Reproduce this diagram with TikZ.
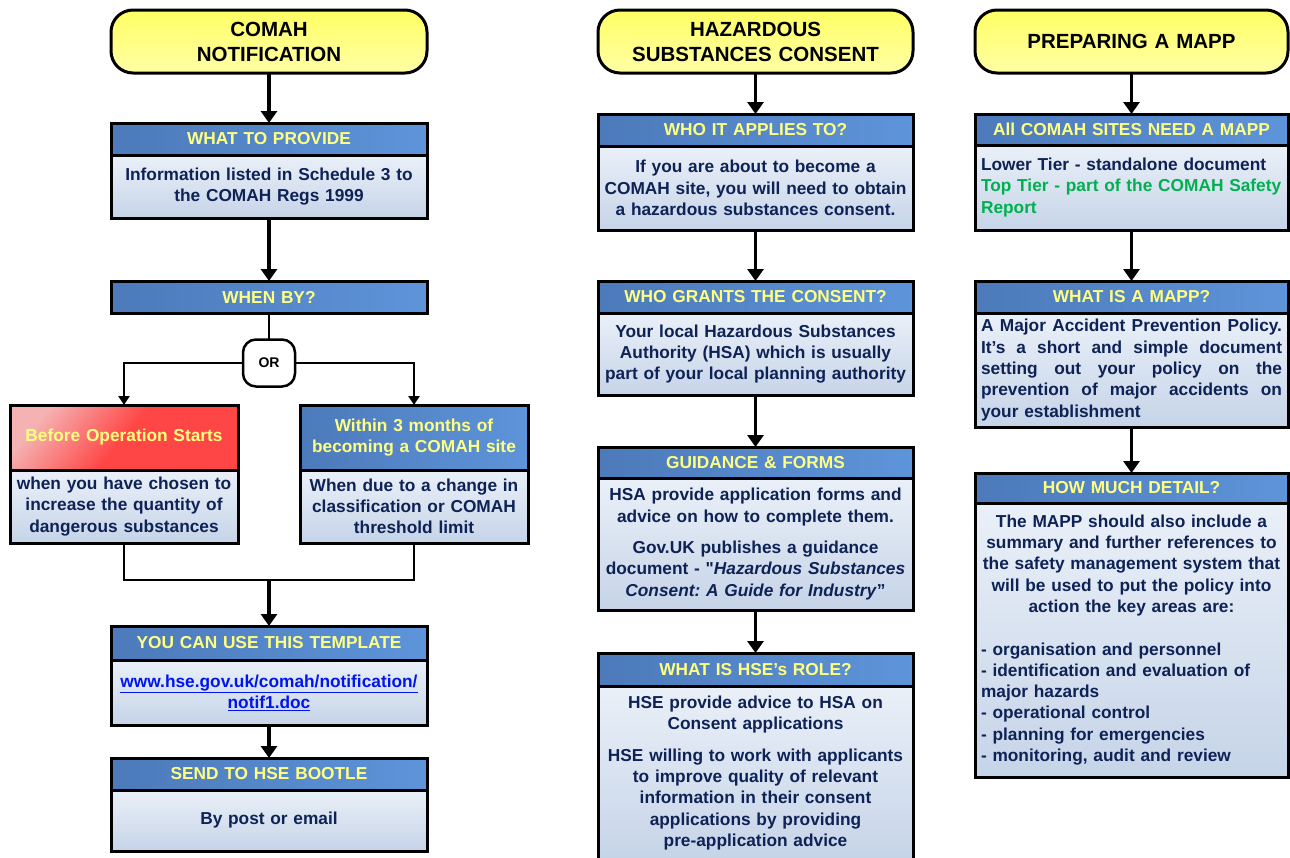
\documentclass[tikz,border=0pt]{standalone}
\usepackage{fontspec}
\setmainfont{Liberation Sans}
\newfontfamily\qfont{Liberation Sans}[Ligatures=TeXOff]
\usetikzlibrary{arrows.meta}
\definecolor{hbA}{RGB}{76,122,186}
\definecolor{hbB}{RGB}{94,148,218}
\definecolor{hy}{RGB}{255,255,128}
\definecolor{bA}{RGB}{234,240,248}
\definecolor{bB}{RGB}{198,212,232}
\definecolor{navy}{RGB}{14,34,86}
\definecolor{tyA}{RGB}{255,255,100}
\definecolor{tyB}{RGB}{255,255,165}
\definecolor{grn}{RGB}{0,176,80}
\definecolor{lnk}{RGB}{0,20,240}
\definecolor{rdA}{RGB}{245,178,178}
\definecolor{rdB}{RGB}{255,70,70}
\newcommand{\bodyfnt}{\fontsize{17.3}{21.3}\selectfont\bfseries\frenchspacing}
\newcommand{\ttlfnt}{\fontsize{20.5}{25}\selectfont\bfseries}
\newcommand{\jline}[1]{\leavevmode\hbox to 301pt{\spaceskip=.278em plus 1fil\relax #1}}
\tikzset{
  box/.style={draw=black, line width=3pt, anchor=north west, inner ysep=0pt, inner xsep=6pt, outer sep=0pt},
  hdr/.style={box, left color=hbA, right color=hbB, text=hy, font=\bodyfnt, align=center},
  redhdr/.style={box, top color=rdA, bottom color=rdB, middle color=rdB, shading angle=50, text=hy, font=\bodyfnt, align=center},
  bdy/.style={box, top color=bA, bottom color=bB, text=navy, font=\bodyfnt, align=center},
  ttl/.style={box, rounded corners=22pt, top color=tyA, bottom color=tyB, text=black, font=\ttlfnt, align=center, minimum height=63pt},
  wA/.style={minimum width=316pt, text width=304pt},
  wB/.style={minimum width=315pt, text width=303pt},
  wC/.style={minimum width=313pt, text width=301pt},
  wS/.style={minimum width=228pt, text width=216pt},
  arr/.style={line width=3.5pt, -{Triangle[width=16pt,length=12pt]}},
  thinline/.style={line width=2.5pt},
  tarr/.style={thinline, -{Triangle[width=11pt,length=9pt]}},
  ornode/.style={draw, line width=2.5pt, rounded corners=13pt, fill=white, font=\fontsize{14}{16}\selectfont\bfseries, minimum width=52pt, minimum height=47pt, inner sep=0pt, outer sep=0pt}
}
\begin{document}
\begin{tikzpicture}[x=1pt,y=-1pt]
\fill[white] (0,0) rectangle (1290,857);
\useasboundingbox (0,0) rectangle (1290,857);

% ---------- Column 1 ----------
\node[ttl, wA] (t1) at (111,10) {COMAH\\NOTIFICATION};
\node[hdr, wA, minimum height=32pt] (h1) at (111,123) {WHAT TO PROVIDE};
\node[bdy, wA, minimum height=63pt] (b1) at (111,155) {Information listed in Schedule 3 to\\the COMAH Regs 1999};
\node[hdr, wA, minimum height=32pt] (h2) at (111,281) {WHEN BY?};
\node[ornode] (orn) at (269,363) {OR};
\node[redhdr, wS, minimum height=65pt] (rh) at (10,405) {Before Operation Starts};
\node[bdy, wS, minimum height=73pt] (rb) at (10,470) {when you have chosen to\\increase the quantity of\\dangerous substances};
\node[hdr, wS, minimum height=65pt] (wh) at (300,405) {Within 3 months of\\becoming a COMAH site};
\node[bdy, wS, minimum height=73pt] (wb) at (300,470) {When due to a change in\\classification or COMAH\\threshold limit};
\coordinate (mrg) at (269,580);
\node[hdr, wA, minimum height=34pt] (h3) at (111,626) {YOU CAN USE THIS TEMPLATE};
\node[bdy, wA, minimum height=65pt, inner xsep=1pt, text width=314pt, text=lnk] (b3) at (111,660) {\underline{www.hse.gov.uk/comah/notification/}\\\underline{notif1.doc}};
\node[hdr, wA, minimum height=32pt] (h4) at (111,758) {SEND TO HSE BOOTLE};
\node[bdy, wA, minimum height=61pt] (b4) at (111,790) {By post or email};

\draw[arr] (t1.south) -- (h1.north);
\draw[arr] (b1.south) -- (h2.north);
\draw[thinline] (h2.south) -- (orn.north);
\draw[tarr] (orn.west) -| (rh.north);
\draw[tarr] (orn.east) -| (wh.north);
\draw[thinline] (rb.south) |- (mrg) -| (wb.south);
\draw[arr] (mrg) -- (h3.north);
\draw[arr] (b3.south) -- (h4.north);

% ---------- Column 2 ----------
\node[ttl, wB] (t2) at (598,10) {HAZARDOUS\\SUBSTANCES CONSENT};
\node[hdr, wB, minimum height=32pt] (h5) at (598,114) {WHO IT APPLIES TO?};
\node[bdy, wB, minimum height=84pt] (b5) at (598,146) {If you are about to become a\\COMAH site, you will need to obtain\\a hazardous substances consent.};
\node[hdr, wB, minimum height=32pt] (h6) at (598,281) {WHO GRANTS THE CONSENT?};
\node[bdy, wB, minimum height=82pt] (b6) at (598,313) {Your local Hazardous Substances\\Authority (HSA) which is usually\\part of your local planning authority};
\node[hdr, wB, minimum height=31pt] (h7) at (598,447) {GUIDANCE \& FORMS};
\node[bdy, wB, minimum height=132pt] (b7) at (598,478) {HSA provide application forms and\\advice on how to complete them.\\[10pt]Gov.UK publishes a guidance\\document - {\qfont\bfseries"}\textit{Hazardous Substances}\\\textit{Consent: A Guide for Industry}”};
\node[hdr, wB, minimum height=33pt] (h8) at (598,653) {WHAT IS HSE’s ROLE?};
\node[bdy, wB, minimum height=174pt] (b8) at (598,686) {HSE provide advice to HSA on\\Consent applications\\[10pt]HSE willing to work with applicants\\to improve quality of relevant\\information in their consent\\applications by providing\\pre-application advice};

\draw[arr] (t2.south) -- (h5.north);
\draw[arr] (b5.south) -- (h6.north);
\draw[arr] (b6.south) -- (h7.north);
\draw[arr] (b7.south) -- (h8.north);

% ---------- Column 3 ----------
\node[ttl, wC] (t3) at (975,10) {PREPARING A MAPP};
\node[hdr, wC, minimum height=31pt] (h9) at (975,114) {All COMAH SITES NEED A MAPP};
\node[bdy, wC, minimum height=85pt, align=left] (b9) at (975,145) {Lower Tier - standalone document\\\textcolor{grn}{Top Tier - part of the COMAH Safety}\\\textcolor{grn}{Report}};
\node[hdr, wC, minimum height=32pt] (h10) at (975,281) {WHAT IS A MAPP?};
\node[bdy, wC, minimum height=114pt, align=left] (b10) at (975,313) {\jline{A Major Accident Prevention Policy.}\\\jline{It’s a short and simple document}\\\jline{setting out your policy on the}\\\jline{prevention of major accidents on}\\your establishment};
\node[hdr, wC, minimum height=30pt] (h11) at (975,473) {HOW MUCH DETAIL?};
\node[bdy, wC, minimum height=274pt, align=left] (b11) at (975,503) {\makebox[301pt]{The MAPP should also include a}\\\makebox[301pt]{summary and further references to}\\\makebox[301pt]{the safety management system that}\\\makebox[301pt]{will be used to put the policy into}\\\makebox[301pt]{action the key areas are:}\\[21.3pt]- organisation and personnel\\- identification and evaluation of\\major hazards\\- operational control\\- planning for emergencies\\- monitoring, audit and review};

\draw[arr] (t3.south) -- (h9.north);
\draw[arr] (b9.south) -- (h10.north);
\draw[arr] (b10.south) -- (h11.north);
\end{tikzpicture}
\end{document}
